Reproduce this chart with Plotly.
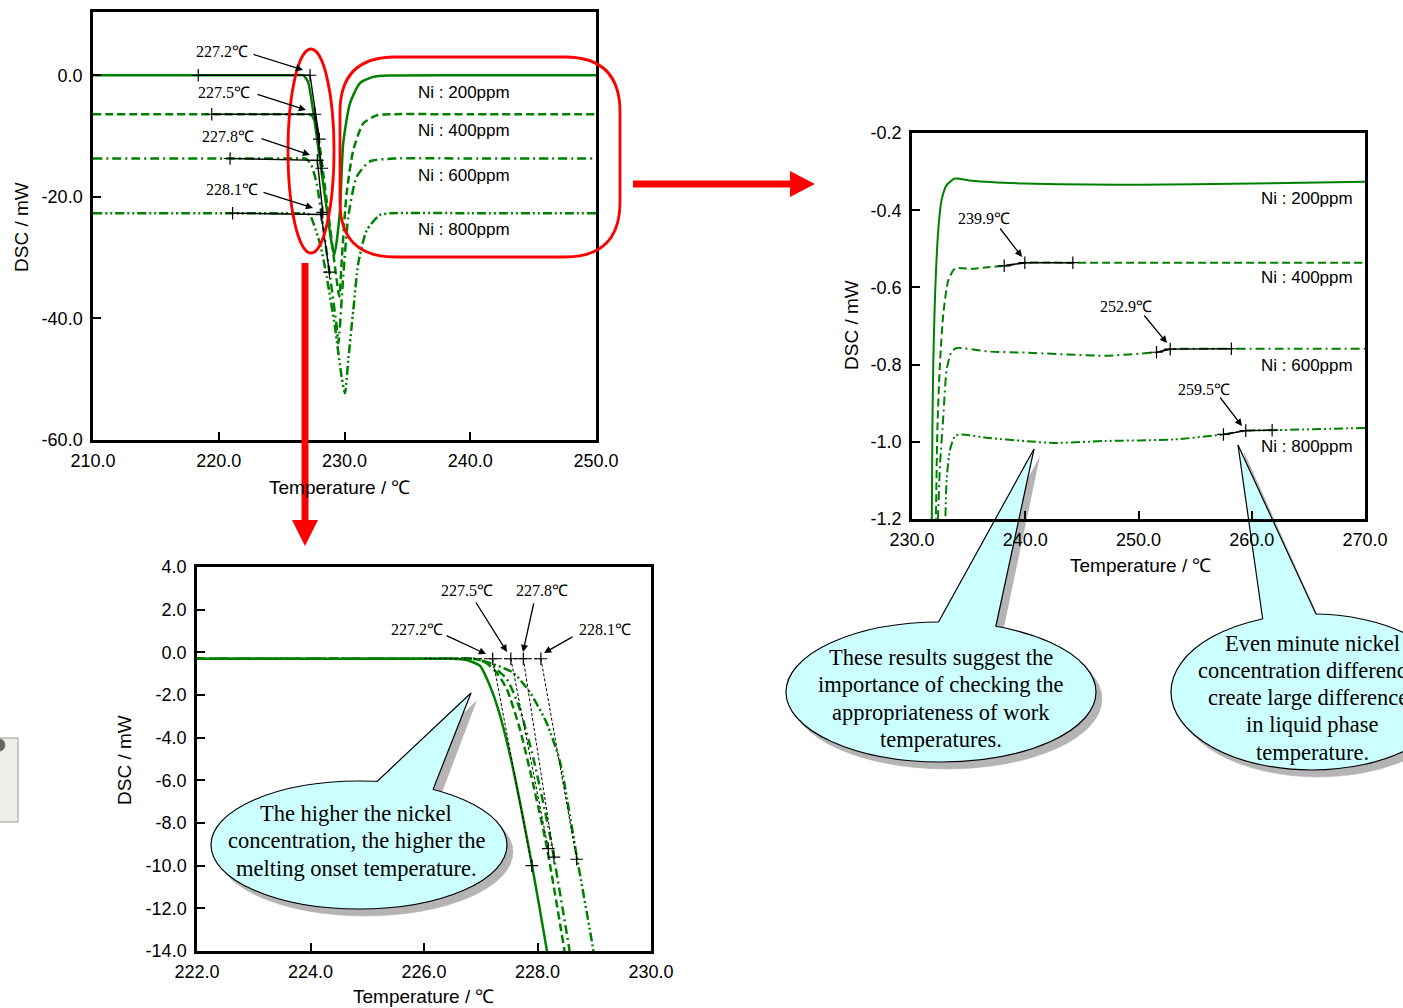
import plotly.graph_objects as go

W, H = 1403, 1008
GREEN = "#008000"
SANS = "Liberation Sans, Arial, sans-serif"
SERIF = "Liberation Serif, Times New Roman, serif"

# ---------------- data: overview (chart 1) ----------------
c1_200_x = [210, 220, 226.0, 226.7, 227.1, 227.5, 228.05, 228.6, 228.98, 229.19, 229.4, 229.64, 229.9, 230.44, 231.23, 232.3, 233.6, 240, 250]
c1_200_y = [0, 0, 0, 0, -1.1, -5.8, -14, -22.2, -27.7, -29.6, -27.0, -22.2, -11.2, -4.6, -1.3, -0.27, -0.05, 0, 0]
c1_400_x = [210, 220, 226.4, 227.1, 227.39, 227.79, 228.31, 228.85, 229.38, 229.59, 229.78, 230.17, 230.7, 231.5, 232.56, 233.7, 240, 250]
c1_400_y = [-6.42, -6.42, -6.42, -6.42, -6.6, -8.5, -16.2, -25, -33.7, -36.4, -30.4, -19.4, -12.3, -7.9, -6.6, -6.42, -6.42, -6.42]
c1_600_x = [210, 220, 226.3, 226.9, 227.3, 227.79, 228.3, 228.85, 229.38, 229.51, 229.9, 230.3, 230.97, 232.0, 233.9, 240, 250]
c1_600_y = [-13.7, -13.7, -13.7, -13.7, -14.5, -17.8, -24.9, -33.1, -41.4, -44.1, -33.1, -23.3, -16.7, -14.2, -13.7, -13.7, -13.7]
c1_800_x = [210, 220, 226.4, 227.0, 227.26, 228.05, 228.58, 229.24, 229.77, 230.04, 230.3, 230.7, 231.1, 231.77, 232.8, 233.7, 240, 250]
c1_800_y = [-22.7, -22.7, -22.7, -22.7, -23, -27.7, -33.1, -41.4, -49.6, -52.3, -46.8, -38.6, -30.9, -25.5, -23, -22.7, -22.7, -22.7]
# onset construction lines (horizontal start, onset, tangent end)
c1_onset = {
    "200": ([218.37, 227.26, 228.0], [0, 0, -10.5]),
    "400": ([219.44, 227.65, 228.19], [-6.42, -6.42, -15.3]),
    "600": ([220.9, 227.84, 228.27], [-13.7, -14.0, -22.55]),
    "800": ([221.1, 228.14, 228.8], [-22.7, -22.9, -32.4]),
}
c1_labels = ["227.2℃", "227.5℃", "227.8℃", "228.1℃"]
ni_labels = ["Ni : 200ppm", "Ni : 400ppm", "Ni : 600ppm", "Ni : 800ppm"]

# ---------------- data: liquidus zoom (chart 2) ----------------
c2_200_x = [231.74, 231.8, 231.88, 232.03, 232.32, 232.61, 233.06, 233.79, 235.27, 240, 250, 260, 270]
c2_200_y = [-1.25, -0.968, -0.796, -0.624, -0.451, -0.374, -0.335, -0.318, -0.324, -0.331, -0.334, -0.331, -0.326]
c2_400_x = [232.09, 232.24, 232.47, 232.77, 233.21, 233.8, 235.27, 236.7, 238.14, 239.96, 244.2, 270]
c2_400_y = [-1.25, -0.968, -0.796, -0.667, -0.581, -0.551, -0.552, -0.548, -0.544, -0.536, -0.536, -0.536]
c2_600_x = [232.24, 232.47, 232.77, 233.06, 233.5, 233.95, 236.7, 240, 247, 250.05, 251.59, 252.8, 258.2, 270]
c2_600_y = [-1.25, -1.061, -0.932, -0.813, -0.766, -0.757, -0.766, -0.769, -0.777, -0.772, -0.768, -0.760, -0.759, -0.759]
c2_800_x = [232.91, 233.06, 233.36, 233.8, 234.39, 236.7, 240, 242.5, 247, 253.1, 257.5, 259.47, 261.8, 270]
c2_800_y = [-1.25, -1.097, -1.02, -0.985, -0.981, -0.99, -0.998, -1.003, -0.998, -0.994, -0.981, -0.971, -0.970, -0.964]
c2_marks = {
    "400": ([238.14, 239.96, 244.2], [-0.544, -0.536, -0.536]),
    "600": ([251.59, 252.8, 258.2], [-0.768, -0.760, -0.759]),
    "800": ([257.5, 259.47, 261.8], [-0.981, -0.971, -0.970]),
}
c2_labels = ["239.9℃", "252.9℃", "259.5℃"]

# ---------------- data: onset zoom (chart 3) ----------------
c3_200_x = [222, 224, 226.2, 226.5, 226.75, 226.99, 227.15, 227.3, 227.52, 227.9, 228.16, 228.22]
c3_200_y = [-0.3, -0.3, -0.3, -0.3, -0.36, -0.64, -1.5, -2.6, -4.86, -9.93, -13.9, -15]
c3_400_x = [222, 224, 226.4, 226.8, 227.05, 227.28, 227.46, 227.69, 227.93, 228.16, 228.47, 228.53]
c3_400_y = [-0.3, -0.3, -0.3, -0.3, -0.41, -0.95, -1.73, -3.6, -6.26, -9.07, -13.9, -15]
c3_600_x = [222, 224, 226.5, 226.9, 227.16, 227.46, 227.69, 227.93, 228.22, 228.56, 228.62]
c3_600_y = [-0.3, -0.3, -0.3, -0.3, -0.56, -1.26, -2.67, -5.0, -8.6, -13.9, -15]
c3_800_x = [222, 224, 226.5, 226.9, 227.16, 227.57, 227.87, 228.16, 228.40, 228.69, 228.98, 229.04]
c3_800_y = [-0.3, -0.3, -0.3, -0.3, -0.5, -0.95, -1.89, -3.3, -5.17, -9.54, -13.9, -15]
c3_onset_x = [227.21, 227.53, 227.75, 228.06]
c3_end_x = [227.9, 228.19, 228.29, 228.69]
c3_end_y = [-10.0, -9.2, -9.6, -9.7]
c3_base_y = -0.3

dashes = {"200": "solid", "400": "8px,4px", "600": "9px,4px,2px,4px", "800": "9px,3px,2px,3px,2px,3px"}

fig = go.Figure()


def curve(x, y, key, xa, ya, w=2.2):
    fig.add_trace(go.Scatter(x=x, y=y, mode="lines", xaxis=xa, yaxis=ya,
                             line=dict(color=GREEN, width=w, dash=dashes[key], shape="spline", smoothing=0.6),
                             showlegend=False, hoverinfo="skip"))


def blackline(x, y, xa, ya, dash="solid", w=1.3, markers=True):
    fig.add_trace(go.Scatter(x=x, y=y, mode="lines+markers" if markers else "lines", xaxis=xa, yaxis=ya,
                             line=dict(color="black", width=w, dash=dash),
                             marker=dict(symbol="cross-thin", size=9, line=dict(color="black", width=1.2)),
                             showlegend=False, hoverinfo="skip"))


for k, (x, y) in zip(["200", "400", "600", "800"],
                     [(c1_200_x, c1_200_y), (c1_400_x, c1_400_y), (c1_600_x, c1_600_y), (c1_800_x, c1_800_y)]):
    curve(x, y, k, "x", "y", 2.5)
for k, (x, y) in c1_onset.items():
    blackline(x, y, "x", "y", w=1.4)

for k, (x, y) in zip(["200", "400", "600", "800"],
                     [(c2_200_x, c2_200_y), (c2_400_x, c2_400_y), (c2_600_x, c2_600_y), (c2_800_x, c2_800_y)]):
    curve(x, y, k, "x2", "y2", 2.0)
for k, (x, y) in c2_marks.items():
    blackline(x, y, "x2", "y2", w=1.4)

for k, (x, y) in zip(["200", "400", "600", "800"],
                     [(c3_200_x, c3_200_y), (c3_400_x, c3_400_y), (c3_600_x, c3_600_y), (c3_800_x, c3_800_y)]):
    curve(x, y, k, "x3", "y3", 2.5)
blackline([226.0, max(c3_onset_x)], [c3_base_y, c3_base_y], "x3", "y3", dash="3px,2px", w=1.0, markers=False)
for ox, ex, ey in zip(c3_onset_x, c3_end_x, c3_end_y):
    blackline([ox, ex], [c3_base_y, ey], "x3", "y3", dash="3px,2px", w=1.0)


def px(x):
    return x / W


def py(y):
    return 1 - y / H


axis_common = dict(showline=True, linecolor="black", linewidth=2.5, mirror=True, ticks="inside",
                   ticklen=8, tickwidth=2, tickcolor="black", showgrid=False, zeroline=False,
                   tickfont=dict(family=SANS, size=18, color="black"), fixedrange=True, automargin=False)
xax = dict(axis_common, ticklabelstandoff=3)
yax = dict(axis_common, ticklabelstandoff=4)


def fmt(vals, d=1):
    return [f"{v:.{d}f}" for v in vals]


x1t = [210, 220, 230, 240, 250]
y1t = [0, -20, -40, -60]
x2t = [230, 240, 250, 260, 270]
y2t = [-0.2, -0.4, -0.6, -0.8, -1.0, -1.2]
x3t = [222, 224, 226, 228, 230]
y3t = [4, 2, 0, -2, -4, -6, -8, -10, -12, -14]

fig.update_layout(
    width=W, height=H, margin=dict(l=0, r=0, t=0, b=0, pad=0, autoexpand=False),
    paper_bgcolor="white", plot_bgcolor="rgba(0,0,0,0)", showlegend=False,
    xaxis=dict(xax, domain=[px(93), px(596)], range=[210, 250], tickvals=x1t, ticktext=fmt(x1t), anchor="y"),
    yaxis=dict(yax, domain=[py(440), py(12)], range=[-60, 10.4], tickvals=y1t, ticktext=fmt(y1t), anchor="x"),
    xaxis2=dict(xax, domain=[px(912), px(1365)], range=[230, 270], tickvals=x2t, ticktext=fmt(x2t), anchor="y2"),
    yaxis2=dict(yax, domain=[py(519), py(133)], range=[-1.2, -0.2], tickvals=y2t, ticktext=fmt(y2t), anchor="x2"),
    xaxis3=dict(xax, domain=[px(197), px(651)], range=[222, 230], tickvals=x3t, ticktext=fmt(x3t), anchor="y3"),
    yaxis3=dict(yax, domain=[py(951), py(567)], range=[-14, 4], tickvals=y3t, ticktext=fmt(y3t), anchor="x3"),
)

ann = []


def text(x, y, t, size=16, family=SANS, xanchor="center", angle=0):
    ann.append(dict(x=px(x), y=py(y), xref="paper", yref="paper", text=t, showarrow=False,
                    font=dict(family=family, size=size, color="black"), xanchor=xanchor, yanchor="middle",
                    textangle=angle))


def arrow(tx, ty, hx, hy, w=1.3):
    ann.append(dict(x=px(hx), y=py(hy), xref="paper", yref="paper", ax=tx - hx, ay=ty - hy, text="",
                    showarrow=True, arrowhead=2, arrowsize=1.1, arrowwidth=w, arrowcolor="black", standoff=0))


# axis titles
text(340, 487, "Temperature / ℃", 19)
text(22, 227, "DSC / mW", 19, angle=-90)
text(1141, 565, "Temperature / ℃", 19)
text(852, 325, "DSC / mW", 19, angle=-90)
text(424, 996, "Temperature / ℃", 19)
text(124, 760, "DSC / mW", 19, angle=-90)

# chart 1 labels
for t, (tx, ty), (ax0, ay0, hx, hy) in zip(c1_labels, [(222, 51), (224, 92), (228, 137), (232, 189)],
                                            [(252, 54, 303, 70), (256, 94, 306, 110), (260, 138, 310, 155), (262, 192, 313, 208)]):
    text(tx, ty, t, 16, SERIF)
    arrow(ax0, ay0, hx, hy)
for t, yy in zip(ni_labels, [92, 130, 175, 230]):
    text(416, yy, t, 17, xanchor="left")

# chart 2 labels
for t, yy in zip(ni_labels, [199, 277, 365, 446]):
    text(1355, yy, t, 17, xanchor="right")
for t, (tx, ty), (ax0, ay0, hx, hy) in zip(c2_labels, [(984, 218), (1126, 306), (1204, 390)],
                                            [(999, 227, 1022, 257), (1143, 314, 1167, 343), (1219, 396, 1242, 426)]):
    text(tx, ty, t, 16, SERIF)
    arrow(ax0, ay0, hx, hy)

# chart 3 labels
c3_text_pos = [(417, 629), (467, 590), (542, 590), (605, 629)]
c3_arrows = [(445, 635, 486, 654), (475, 601, 507, 652), (534, 602, 523, 652), (574, 636, 544, 653)]
for t, (tx, ty), (ax0, ay0, hx, hy) in zip(c1_labels, c3_text_pos, c3_arrows):
    text(tx, ty, t, 16, SERIF)
    arrow(ax0, ay0, hx, hy)

# bubble texts
for i, t in enumerate(["The higher the nickel", "concentration, the higher the", "melting onset temperature."]):
    text(356, 813 + 27.5 * i, t, 22.5, SERIF)
for i, t in enumerate(["These results suggest the", "importance of checking the", "appropriateness of work", "temperatures."]):
    text(941, 657 + 27.6 * i, t, 22.5, SERIF)
for i, t in enumerate(["Even minute nickel", "concentration differences", "create large differences", "in liquid phase", "temperature."]):
    text(1312, 643 + 27.3 * i, t, 22.5, SERIF)

fig.update_layout(annotations=ann)

shapes = []


def P(pts):
    s = ""
    for i, (x, y) in enumerate(pts):
        s += ("M" if i == 0 else "L") + f"{px(x):.5f},{py(y):.5f} "
    return s + "Z"


def ellipse(cx, cy, rx, ry, fill, line, lw, layer="below"):
    shapes.append(dict(type="circle", xref="paper", yref="paper", x0=px(cx - rx), x1=px(cx + rx),
                       y0=py(cy + ry), y1=py(cy - ry), fillcolor=fill,
                       line=dict(color=line, width=lw), layer=layer))


def poly(pts, fill, line="rgba(0,0,0,0)", lw=0, layer="below"):
    shapes.append(dict(type="path", xref="paper", yref="paper", path=P(pts), fillcolor=fill,
                       line=dict(color=line, width=lw), layer=layer))


def seg(x0, y0, x1, y1, color="black", lw=1.2, layer="below"):
    shapes.append(dict(type="line", xref="paper", yref="paper", x0=px(x0), y0=py(y0), x1=px(x1), y1=py(y1),
                       line=dict(color=color, width=lw), layer=layer))


def bubble(cx, cy, rx, ry, b1, tip, b2, sh=(6, 7)):
    dx, dy = sh
    CY = "#ccffff"
    SH = "#b4b4b4"
    ellipse(cx + dx, cy + dy, rx, ry, SH, SH, 0.5)
    poly([(b1[0] + dx, b1[1] + dy + 4), (tip[0] + dx, tip[1] + dy), (b2[0] + dx, b2[1] + dy + 4)], SH)
    ellipse(cx, cy, rx, ry, CY, "black", 1.2)
    poly([b1, tip, b2, (b2[0], b2[1] + 7), (b1[0], b1[1] + 7)], CY)
    seg(b1[0], b1[1], tip[0], tip[1])
    seg(tip[0], tip[1], b2[0], b2[1])


bubble(359, 845, 148, 64, (377, 781.5), (471, 693), (433, 789.6))
bubble(941, 692, 155, 70, (938.5, 622), (1034, 449), (995.8, 626.5))
bubble(1312, 692, 141, 78, (1262.7, 619), (1238, 445), (1316, 614))

# red highlight marks
RED = "#ff0000"
ellipse(311, 151, 23, 102, "rgba(0,0,0,0)", RED, 2.8, layer="above")
x0, y0, x1, y1, r = 340, 57, 620, 257, 55
rr = (f"M{px(x0 + r):.5f},{py(y0):.5f} L{px(x1 - r):.5f},{py(y0):.5f} "
      f"Q{px(x1):.5f},{py(y0):.5f} {px(x1):.5f},{py(y0 + r):.5f} L{px(x1):.5f},{py(y1 - r):.5f} "
      f"Q{px(x1):.5f},{py(y1):.5f} {px(x1 - r):.5f},{py(y1):.5f} L{px(x0 + r):.5f},{py(y1):.5f} "
      f"Q{px(x0):.5f},{py(y1):.5f} {px(x0):.5f},{py(y1 - r):.5f} L{px(x0):.5f},{py(y0 + r):.5f} "
      f"Q{px(x0):.5f},{py(y0):.5f} {px(x0 + r):.5f},{py(y0):.5f} Z")
shapes.append(dict(type="path", xref="paper", yref="paper", path=rr, line=dict(color=RED, width=2.8), layer="above"))
poly([(633, 180.5), (790, 180.5), (790, 171), (815, 184), (790, 197), (790, 187.5), (633, 187.5)], RED, layer="above")
poly([(301.5, 263), (308.5, 263), (308.5, 520), (318, 520), (305, 546), (292, 520), (301.5, 520)], RED, layer="above")

# small grey object at the left edge
shapes.append(dict(type="rect", xref="paper", yref="paper", x0=px(-12), x1=px(18), y0=py(822), y1=py(738),
                   fillcolor="#eeeee8", line=dict(color="#9a9a90", width=1), layer="above"))
ellipse(0, 745, 5, 6, "#666666", "#666666", 0.5, layer="above")

fig.update_layout(shapes=shapes)
fig.write_html("out.html", config={"displayModeBar": False},
               post_script="document.body.style.margin='0px';document.body.style.overflow='hidden';")
